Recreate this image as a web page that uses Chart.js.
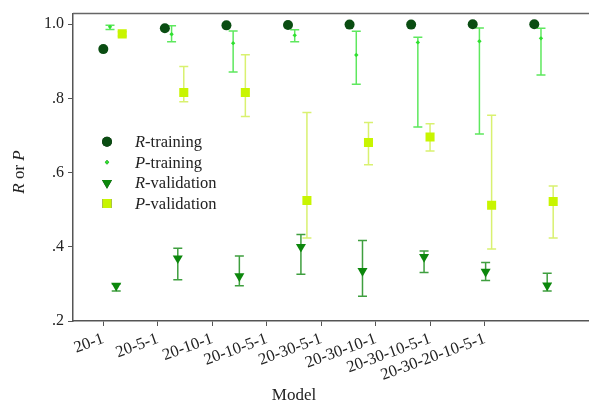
<!DOCTYPE html>
<html><head><meta charset="utf-8">
<script src="https://cdn.jsdelivr.net/npm/chart.js@4"></script>
<style>html,body{margin:0;padding:0;background:#fff}canvas{display:block}</style>
</head><body>
<canvas id="c" width="589" height="407" style="width:589px;height:407px"></canvas>
<script>
// ---- data ----
const models = ['20-1','20-5-1','20-10-1','20-10-5-1','20-30-5-1','20-30-10-1','20-30-10-5-1','20-30-20-10-5-1'];
const rTraining      = [0.933, 0.989, 0.997, 0.998, 0.999, 0.999, 1.000, 1.000];
const pTraining      = [0.993, 0.973, 0.949, 0.970, 0.917, 0.951, 0.954, 0.962];
const pTrainingLow   = [0.986, 0.953, 0.871, 0.953, 0.838, 0.723, 0.704, 0.863];
const pTrainingHigh  = [0.997, 0.996, 0.982, 0.985, 0.981, 0.965, 0.990, 0.989];
const rValidation    = [0.295, 0.369, 0.321, 0.400, 0.335, 0.373, 0.333, 0.296];
const rValidationLow = [0.281, 0.311, 0.295, 0.326, 0.267, 0.331, 0.309, 0.281];
const rValidationHigh= [0.300, 0.396, 0.375, 0.433, 0.417, 0.389, 0.358, 0.329];
const pValidation    = [0.974, 0.816, 0.816, 0.525, 0.681, 0.696, 0.512, 0.522];
const pValidationLow = [0.968, 0.791, 0.751, 0.424, 0.621, 0.658, 0.394, 0.424];
const pValidationHigh= [0.980, 0.886, 0.918, 0.762, 0.735, 0.732, 0.755, 0.564];
const yTickValues = [0.2, 0.4, 0.6, 0.8, 1.0];
const yTickLabels = ['.2', '.4', '.6', '.8', '1.0'];
const seriesNames = [['R','-training'],['P','-training'],['R','-validation'],['P','-validation']];

// ---- layout helpers ----
const GROUP_STEP = 1.1297;
const OFFSETS = [0, 0.123, 0.237, 0.347];
const pos = (g, k) => 1 + g * GROUP_STEP + OFFSETS[k];
const SERIF = '"Liberation Serif","Times New Roman",serif';
Chart.defaults.font.family = SERIF;
Chart.defaults.color = '#222';

function mk(values, k, low, high, style) {
  return Object.assign({
    data: values.map((v, g) => ({x: pos(g, k), y: v})),
    errLow: low, errHigh: high, showLine: false
  }, style);
}

const styles = [
  {pointStyle:'circle', pointRadius:5, backgroundColor:'#0a4d12', borderColor:'#0a4d12', borderWidth:0},
  {pointStyle:'rectRot', pointRadius:2.2, backgroundColor:'#2fe02f', borderColor:'#2fe02f', borderWidth:0, errColor:'#5ee85e'},
  {pointStyle:'triangle', rotation:180, pointRotation:180, pointRadius:5.8, backgroundColor:'#0c870c', borderColor:'#0c870c', borderWidth:0, errColor:'#3f9f3f'},
  {pointStyle:'rect', pointRadius:6.4, backgroundColor:'#c8f500', borderColor:'#c8f500', borderWidth:0, errColor:'#d9f170'}
];

const datasets = [
  mk(rTraining, 0, null, null, styles[0]),
  mk(pTraining, 1, pTrainingLow, pTrainingHigh, styles[1]),
  mk(rValidation, 2, rValidationLow, rValidationHigh, styles[2]),
  mk(pValidation, 3, pValidationLow, pValidationHigh, styles[3])
];

const errorBars = {
  id: 'errorBars',
  beforeDatasetsDraw(chart) {
    const ctx = chart.ctx, xs = chart.scales.x, ys = chart.scales.y;
    chart.data.datasets.forEach(ds => {
      if (!ds.errLow) return;
      ctx.save();
      ctx.strokeStyle = ds.errColor; ctx.lineWidth = 1.5;
      ds.data.forEach((p, i) => {
        const x = xs.getPixelForValue(p.x);
        const y1 = ys.getPixelForValue(ds.errLow[i]);
        const y2 = ys.getPixelForValue(ds.errHigh[i]);
        ctx.beginPath();
        ctx.moveTo(x, y1); ctx.lineTo(x, y2);
        ctx.moveTo(x - 4.5, y1); ctx.lineTo(x + 4.5, y1);
        ctx.moveTo(x - 4.5, y2); ctx.lineTo(x + 4.5, y2);
        ctx.stroke();
      });
      ctx.restore();
    });
  }
};

function mixedText(ctx, parts, x, y, size) {
  let cx = x;
  parts.forEach(([t, it]) => {
    ctx.font = (it ? 'italic ' : '') + size + 'px ' + SERIF;
    ctx.fillText(t, cx, y);
    cx += ctx.measureText(t).width;
  });
  return cx - x;
}
function mixedWidth(ctx, parts, size) {
  let w = 0;
  parts.forEach(([t, it]) => { ctx.font = (it ? 'italic ' : '') + size + 'px ' + SERIF; w += ctx.measureText(t).width; });
  return w;
}

const decorations = {
  id: 'decorations',
  afterDraw(chart) {
    const ctx = chart.ctx, a = chart.chartArea;
    ctx.save();
    // top frame line
    ctx.strokeStyle = '#666'; ctx.lineWidth = 1.5;
    ctx.beginPath(); ctx.moveTo(a.left, a.top); ctx.lineTo(a.right, a.top); ctx.stroke();
    ctx.fillStyle = '#222'; ctx.textBaseline = 'middle'; ctx.textAlign = 'left';
    // legend
    const lx = 107, tx = 135, rows = [141.7, 162.3, 182.9, 203.5];
    chart.data.datasets.forEach((ds, i) => {
      Chart.helpers.drawPoint(ctx, {pointStyle: ds.pointStyle, radius: ds.pointRadius, rotation: ds.pointRotation || 0, borderWidth: 0}, lx, rows[i]);
      ctx.fillStyle = ds.backgroundColor; ctx.fill();
      ctx.fillStyle = '#222';
      mixedText(ctx, [[seriesNames[i][0], true], [seriesNames[i][1], false]], tx, rows[i] + 1, 16.5);
    });
    // y title
    const yParts = [['R', true], [' or ', false], ['P', true]];
    ctx.save();
    ctx.translate(20, 172); ctx.rotate(-Math.PI / 2);
    const w = mixedWidth(ctx, yParts, 17);
    mixedText(ctx, yParts, -w / 2, 0, 17);
    ctx.restore();
    // x title
    ctx.textAlign = 'center';
    ctx.font = '17px ' + SERIF;
    const xs = chart.scales.x;
    ctx.fillText('Model', (xs.getPixelForValue(1) + xs.getPixelForValue(models.length)) / 2, 396);
    ctx.restore();
  }
};

new Chart(document.getElementById('c'), {
  type: 'scatter',
  data: { datasets },
  plugins: [errorBars, decorations],
  options: {
    responsive: false, animation: false,
    layout: { autoPadding: false, padding: { left: 0, top: 12, right: 0, bottom: 0 } },
    plugins: { legend: { display: false }, tooltip: { enabled: false } },
    scales: {
      x: {
        type: 'linear', min: 0.444, max: 9.912,
        afterFit(s) { s.height = 86; },
        afterBuildTicks(s) { s.ticks = models.map((m, i) => ({value: i + 1})); },
        grid: { drawOnChartArea: false, tickLength: 5, color: '#555', lineWidth: 1 },
        border: { color: '#555', width: 1.5 },
        ticks: { minRotation: 20, maxRotation: 20, autoSkip: false, padding: 3, font: { size: 16.5 }, color: '#222',
          callback: v => models[Math.round(v) - 1] }
      },
      y: {
        type: 'linear', min: 0.2, max: 1.0287,
        afterFit(s) { s.width = 73; },
        afterBuildTicks(s) { s.ticks = yTickValues.map(v => ({value: v})); },
        grid: { drawOnChartArea: false, tickLength: 5, color: '#555', lineWidth: 1 },
        border: { color: '#555', width: 1.5 },
        ticks: { padding: 4, font: { size: 16 }, color: '#222',
          callback: v => yTickLabels[yTickValues.findIndex(t => Math.abs(t - v) < 1e-6)] }
      }
    }
  }
});
</script>
</body></html>
